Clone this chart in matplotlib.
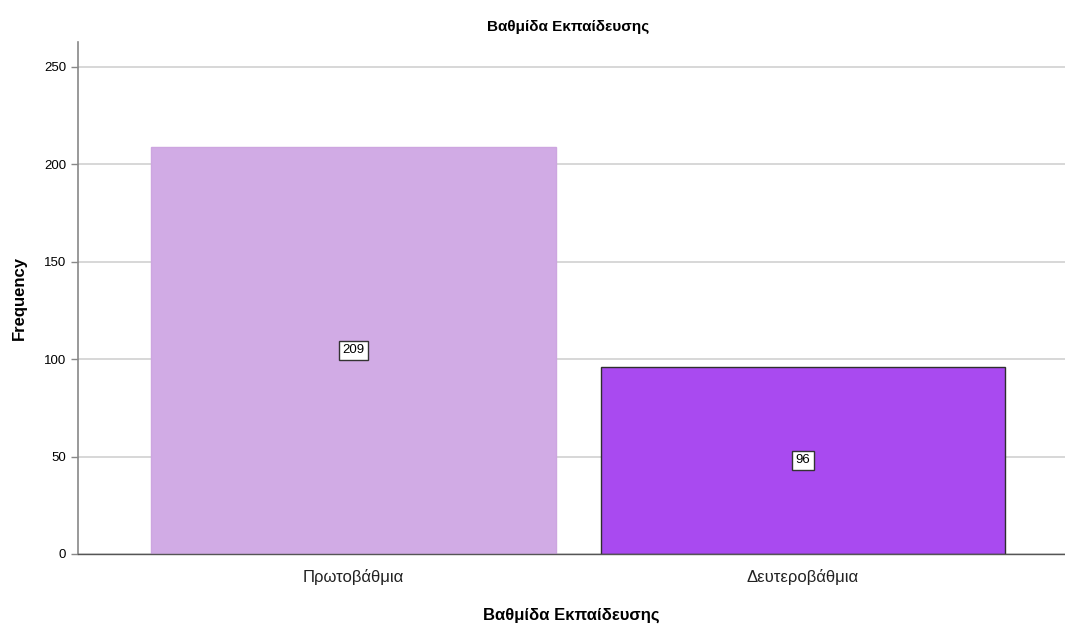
import matplotlib
matplotlib.use("Agg")
import matplotlib.pyplot as plt

categories = ["Πρωτοβάθμια", "Δευτεροβάθμια"]
counts = [209, 96]
bar_colors = ["#D1ABE5", "#A94AF0"]
edge_colors = ["#CDA6E0", "#2E2E2E"]
y_ticks = [0, 50, 100, 150, 200, 250]

plt.rcParams["font.family"] = ["Liberation Sans", "DejaVu Sans"]

fig = plt.figure(figsize=(10.65, 6.27), dpi=100)
ax = fig.add_axes([78 / 1065, 1 - 554 / 627, 987 / 1065, 512 / 627])

x = list(range(len(categories)))
ax.bar(x, counts, width=0.9, color=bar_colors, edgecolor=edge_colors,
       linewidth=1.0, zorder=2)

# value labels in boxes at mid-height
for xi, c in zip(x, counts):
    ax.text(xi, c / 2, str(c), ha="center", va="center", fontsize=9.5, zorder=3,
            bbox=dict(boxstyle="square,pad=0.25", facecolor="white",
                      edgecolor="#333333", linewidth=1.0))

ax.set_xlim(-0.613, 1.583)
ax.set_ylim(0, 262.8)
ax.set_yticks(y_ticks)
ax.set_xticks(x)
ax.set_xticklabels(categories, fontsize=12, color="#222222")
ax.tick_params(axis="y", labelsize=9.5, length=5, color="#888888", width=1)
ax.tick_params(axis="x", length=0, pad=11)

ax.yaxis.grid(True, color="#d4d4d4", linewidth=1.3, zorder=0)
ax.set_axisbelow(True)

for side in ("top", "right"):
    ax.spines[side].set_visible(False)
ax.spines["left"].set_color("#888888")
ax.spines["left"].set_linewidth(1.2)
ax.spines["bottom"].set_color("#555555")
ax.spines["bottom"].set_linewidth(1.0)

ax.set_ylabel("Frequency", fontsize=12, fontweight="bold", labelpad=12)
ax.set_xlabel("Βαθμίδα Εκπαίδευσης", fontsize=12, fontweight="bold", labelpad=16)
fig.text(568 / 1065, 1 - 27 / 627, "Βαθμίδα Εκπαίδευσης", ha="center", va="center",
         fontsize=11, fontweight="bold")

fig.savefig("out.png", dpi=100)
plt.close(fig)
